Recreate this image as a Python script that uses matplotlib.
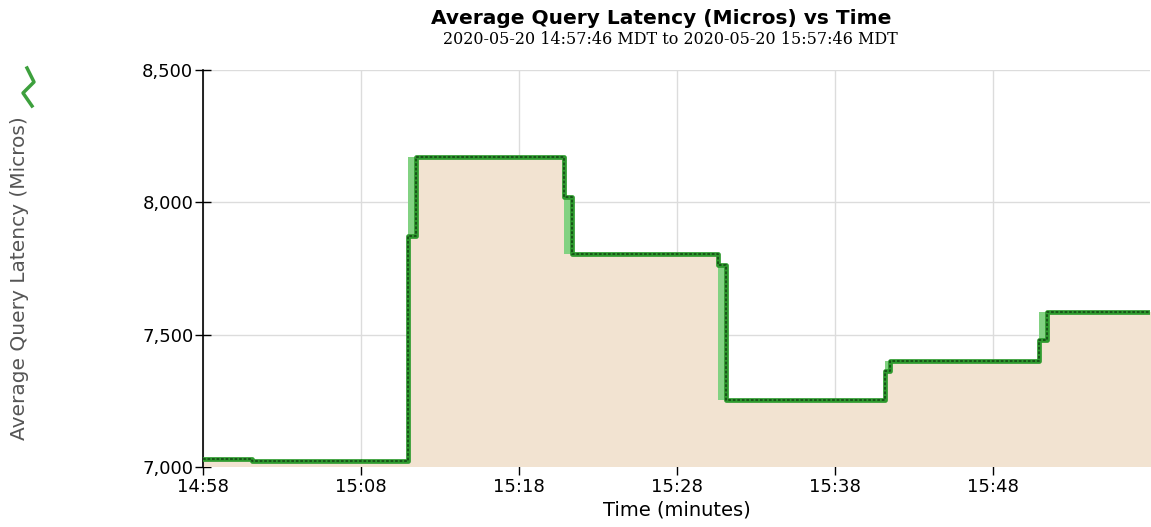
#! /usr/bin/env python3
import matplotlib
matplotlib.use('Agg')
import matplotlib.pyplot as plt
import numpy as np

# minutes after 14:58, step edges and the latency held on each step
edges = [0, 3.1, 12.97, 13.48, 22.85, 23.35, 32.6, 33.1, 43.16, 43.48,
         52.9, 53.4, 60.0]
latency = [7030, 7022, 7872, 8170, 8022, 7806, 7762, 7252, 7362, 7402,
           7481, 7584]
# light band: range of the sample while the value moves between steps
band_lo = [7030, 7022, 7872, 8170, 7806, 7806, 7252, 7252, 7362, 7402,
           7481, 7584]
band_hi = [7030, 7022, 8170, 8170, 8022, 7806, 7762, 7252, 7402, 7402,
           7584, 7584]

xticks = [0, 10, 20, 30, 40, 50]
xticklabels = ['14:58', '15:08', '15:18', '15:28', '15:38', '15:48']
yticks = [7000, 7500, 8000, 8500]
yticklabels = ['7,000', '7,500', '8,000', '8,500']


def main():
    fig = plt.figure(figsize=(11.51, 5.27), dpi=100)
    ax = fig.add_axes([203 / 1151, 1 - 467 / 527, 947 / 1151, 397 / 527])

    x = np.array(edges)
    y = np.array(latency + [latency[-1]])
    lo = np.array(band_lo + [band_lo[-1]])
    hi = np.array(band_hi + [band_hi[-1]])

    ax.fill_between(x, 7000, y, step='post', color='#f2e3d1', lw=0, zorder=1)
    ax.fill_between(x, lo, hi, step='post', color='#82d282', lw=0, zorder=2)
    ax.step(x, y, where='post', color='#2e9a2e', lw=3.4, zorder=3)
    ax.step(x, y, where='post', color='#174f17', lw=1.3,
            dashes=(1.5, 1.0), zorder=4)

    ax.set_xlim(0, 59.95)
    ax.set_ylim(7000, 8500)
    ax.set_xticks(xticks)
    ax.set_xticklabels(xticklabels)
    ax.set_yticks(yticks)
    ax.set_yticklabels(yticklabels)
    ax.tick_params(direction='inout', length=12, width=1, labelsize=13,
                   colors='black')
    ax.tick_params(axis='x', pad=2)
    ax.tick_params(axis='y', pad=1)
    ax.grid(True, color='#dcdcdc', lw=1)
    ax.set_axisbelow(True)
    for side in ('top', 'right', 'bottom'):
        ax.spines[side].set_visible(False)
    ax.spines['left'].set_linewidth(1.2)

    ax.set_xlabel('Time (minutes)', fontsize=14, labelpad=3)
    fig.text(20 / 1151, 1 - 278 / 527, 'Average Query Latency (Micros)',
             rotation=90, ha='center', va='center', fontsize=14.5,
             color='#555555')
    # green chevron next to the axis label
    fig.lines.append(plt.Line2D(
        [27 / 1151, 34 / 1151, 23 / 1151, 32 / 1151],
        [1 - 68 / 527, 1 - 82 / 527, 1 - 93 / 527, 1 - 106 / 527],
        transform=fig.transFigure, color='#3da03d', lw=2.5))

    fig.text(661 / 1151, 1 - 19 / 527, 'Average Query Latency (Micros) vs Time',
             ha='center', va='center', fontsize=14.5, fontweight='bold')
    fig.text(670 / 1151, 1 - 40 / 527,
             '2020-05-20 14:57:46 MDT to 2020-05-20 15:57:46 MDT',
             ha='center', va='center', fontsize=11.5, family='DejaVu Serif')

    fig.savefig('out.png', dpi=100)


if __name__ == '__main__':
    main()
